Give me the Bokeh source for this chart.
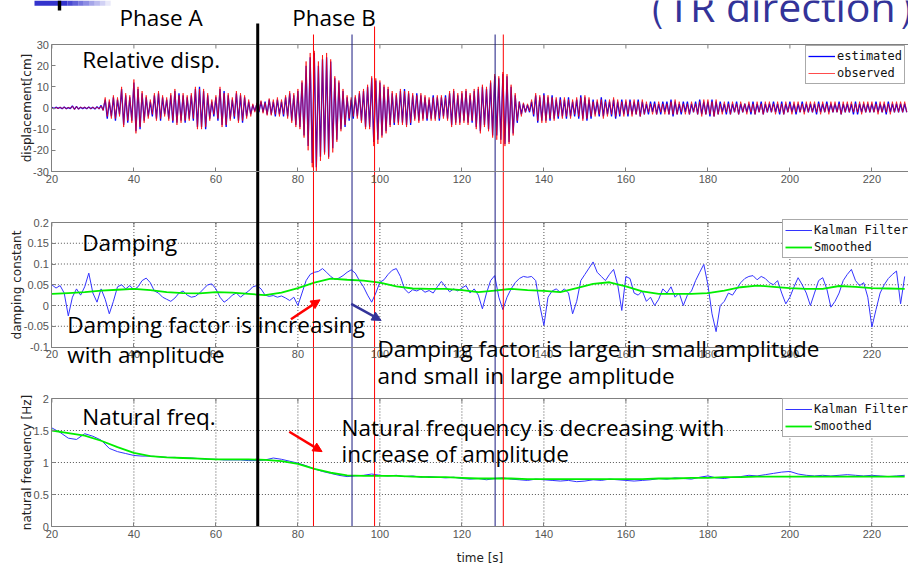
import numpy as np
from bokeh.plotting import figure
from bokeh.models import (Range1d, LinearAxis, FixedTicker, PrintfTickFormatter,
                          Legend, LegendItem, Label, Arrow, NormalHead, BoxAnnotation, Grid)
from bokeh.embed import file_html
from bokeh.resources import INLINE

# ------------------------------------------------------------------ data
T0 = 20.0
DISP_DT = 0.5          # half-cycle peaks
disp_estimated = [
    0.3,-0.3,0.4,-0.2,0.3,-0.4,0.5,-0.3,0.2,-0.3, 1.0,-0.6,0.8,-0.5,0.4,-0.3,0.3,-0.4,0.5,-0.3,
    0.4,-0.5,0.6,-0.4,1.2,-1.0,4,-5,3,-4, 5,-6,4,-3,9,-8,6,-7,5,-6,
    12,-11,9,-10,7,-6,5,-4,3,-4, 6,-5,7,-6,5,-3,4,-5,6,-7,
    8,-7,7,-6,6,-7,5,-5,6,-6, 9,-9,10,-9,8,-10,6,-5,3,-4,
    5,-6,9,-8,8,-9,6,-5,4,-5, 7,-6,6,-7,5,-4,3,-3,1.5,-1.5,
    2,-2,3,-2,3,-3,4,-3,3,-4, 4,-3,3,-4,5,-4,7,-6,6,-8,
    8,-9,12,-13,20,-18,24,-26,26,-28, 20,-23,23,-21,24,-23,22,-19,14,-15,
    12,-10,8,-9,5,-6,4,-5,5,-4, 7,-6,8,-9,10,-9,14,-16,13,-15,
    12,-13,10,-11,9,-8,7,-8,6,-7, 8,-7,9,-8,7,-8,6,-5,7,-6,
    6,-5,5,-6,4,-5,6,-5,5,-6, 5,-4,6,-5,7,-8,8,-7,6,-7,
    7,-6,8,-7,6,-7,8,-9,9,-11, 10,-8,9,-10,12,-13,15,-13,14,-15,
    16,-17,15,-16,10,-12,6,-7,3,-3, 2,-2,1.5,-2,3,-4,6,-7,5,-6,
    7,-6,5,-6,6,-5,4,-5,5,-4, 4,-5,5,-4,3,-4,4,-5,6,-5,
    5,-6,4,-5,4,-3,3,-4,5,-4, 4,-3,3,-4,4,-5,3,-4,4,-3,
    3,-4,4,-3,3,-3,4,-4,3,-3, 2,-3,3,-2,3,-3,2,-3,3,-2,
    3,-3,4,-4,3,-3,2,-3,3,-2, 3,-3,2,-2,3,-3,4,-3,3,-3,
    3,-4,4,-4,3,-3,3,-2,2,-3, 3,-3,2,-2,3,-3,2,-2,2,-2,
    2,-3,3,-3,2,-2,3,-3,2,-2, 2,-2,3,-2,2,-3,3,-3,2,-2,
    3,-2,2,-3,2,-2,3,-2,2,-2, 2,-2,2,-3,3,-2,2,-2,3,-2,
    2,-2,2,-2,3,-3,2,-2,2,-2, 2,-3,3,-3,2,-2,2,-2,2,-2,
    2,-2,3,-2,2,-2,2,-3,3,-2, 2,-2,2,-2,2,-2,2,-2,
]
disp_observed = [
    0.2,-0.4,0.3,-0.3,0.4,-0.3,0.4,-0.4,0.3,-0.2, 0.9,-0.7,0.7,-0.6,0.5,-0.2,0.4,-0.3,0.4,-0.4,
    0.5,-0.4,0.5,-0.5,1.0,-1.2,5,-4,4,-5, 6,-5,5,-4,10,-9,7,-6,6,-7,
    13.5,-12,10,-9,8,-7,6,-5,4,-3, 7,-6,8,-5,6,-4,5,-6,7,-6,
    9,-8,6,-7,7,-6,6,-6,7,-5, 10,-10,9,-10,9,-9,7,-6,4,-3,
    6,-5,10,-9,7,-8,7,-6,5,-4, 8,-7,7,-6,6,-5,4,-4,2,-2,
    2.5,-1.5,3.5,-2.5,2.5,-3.5,4.5,-3.5,4,-3, 5,-4,4,-3,6,-5,8,-7,7,-9,
    9,-10,13,-14,22,-20,26,-28,27,-30, 22,-25,25,-22,26,-24,23,-21,15,-16,
    13,-11,9,-8,6,-5,5,-4,6,-5, 8,-7,9,-10,11,-10,15,-18,14,-17,
    13,-14,11,-12,10,-9,8,-7,7,-8, 9,-8,8,-9,8,-7,7,-6,6,-7,
    7,-6,6,-5,5,-6,5,-6,6,-5, 6,-5,5,-6,8,-9,9,-8,7,-8,
    8,-7,9,-8,7,-6,9,-10,10,-12, 11,-9,10,-11,13,-14,16,-15,15,-17,
    17,-18,16,-17,11,-13,7,-6,3,-4, 2.5,-2,2,-1.5,4,-3,7,-6,6,-7,
    6,-7,6,-5,5,-6,5,-4,4,-5, 5,-4,4,-5,4,-3,5,-4,5,-6,
    6,-5,5,-4,3,-4,4,-3,4,-5, 3,-4,4,-3,5,-4,4,-3,3,-4,
    4,-3,3,-4,4,-3,3,-4,4,-3, 3,-2,2,-3,2,-3,3,-2,2,-3,
    2,-3,3,-3,4,-3,3,-2,2,-3, 2,-3,3,-2,2,-3,3,-4,4,-3,
    4,-3,3,-4,4,-3,2,-3,3,-2, 2,-3,3,-2,2,-3,3,-2,2,-3,
    3,-2,2,-3,3,-2,2,-3,3,-2, 3,-2,2,-3,3,-2,2,-3,3,-2,
    2,-3,3,-2,3,-2,2,-3,3,-2, 3,-2,3,-2,2,-3,3,-2,2,-3,
    3,-2,3,-2,2,-3,3,-2,3,-2, 3,-2,2,-2,3,-3,3,-2,3,-2,
    3,-2,2,-3,3,-2,3,-2,2,-3, 3,-2,3,-2,3,-2,3,-2,
]

DAMP_KF_DT = 1.0
damp_kalman = [
    0.05,0.042,0.048,0.03,-0.025,0.02,0.04,0.025,0.045,0.078,
    0.03,0.008,0.04,0.015,-0.02,0.01,0.045,0.05,0.04,0.048,
    0.038,0.045,0.06,0.066,0.055,0.035,0.03,0.02,0.015,0.01,
    0.018,0.03,0.035,0.025,0.02,0.022,0.03,0.04,0.05,0.052,
    0.04,0.02,0.008,0.015,0.025,0.03,0.02,0.028,0.035,0.045,
    0.048,0.04,0.025,0.022,0.024,0.02,0.023,0.018,0.012,0.02,
    0.0,0.03,0.06,0.075,0.08,0.082,0.089,0.08,0.07,0.063,
    0.066,0.072,0.08,0.086,0.078,0.06,0.045,0.025,0.008,0.03,
    0.056,0.062,0.075,0.085,0.089,0.07,0.04,0.03,0.038,0.035,
    0.04,0.032,0.036,0.03,0.045,0.058,0.045,0.033,0.04,0.035,
    0.042,0.048,0.03,0.04,0.025,-0.008,0.03,0.06,0.072,0.02,
    -0.01,0.02,0.04,0.055,0.065,0.07,0.068,0.07,0.06,0.0,
    -0.048,0.02,0.035,0.04,0.032,0.04,0.03,-0.02,0.01,0.06,
    0.075,0.09,0.105,0.08,0.07,0.06,0.075,0.087,0.05,-0.012,
    0.07,0.065,0.03,0.025,0.035,0.01,0.02,0.0,0.015,0.04,
    0.03,0.045,0.02,0.03,0.0,0.025,0.035,0.06,0.08,0.099,
    0.05,-0.02,-0.063,0.0,0.01,0.03,0.025,0.04,0.055,0.065,
    0.07,0.072,0.062,0.07,0.065,0.055,0.05,0.06,0.03,0.004,
    0.02,0.045,0.067,0.05,0.03,0.0,0.03,0.06,0.067,0.04,
    -0.004,0.01,0.03,0.06,0.075,0.087,0.06,0.048,0.055,0.02,
    -0.052,-0.01,0.03,0.05,0.065,0.075,0.083,0.004,0.07,
]
DAMP_SM_DT = 4.0
damp_smoothed = [
    0.028,0.03,0.032,0.036,0.038,0.04,0.037,0.032,0.03,0.029,
    0.032,0.031,0.028,0.025,0.031,0.042,0.055,0.065,0.062,0.06,
    0.055,0.046,0.041,0.04,0.04,0.037,0.032,0.036,0.04,0.037,
    0.035,0.032,0.042,0.052,0.056,0.046,0.034,0.028,0.028,0.028,
    0.03,0.036,0.044,0.048,0.045,0.042,0.04,0.04,0.047,0.045,
    0.042,0.041,0.04,
]
FREQ_KF_DT = 2.0
freq_kalman = [
    1.54,1.47,1.38,1.36,1.45,1.41,1.35,1.22,1.17,1.14,
    1.11,1.1,1.1,1.09,1.08,1.08,1.07,1.07,1.06,1.05,
    1.05,1.04,1.04,1.04,1.03,1.03,1.04,1.07,1.05,1.02,
    0.99,0.95,0.9,0.86,0.83,0.8,0.78,0.79,0.8,0.82,
    0.8,0.79,0.8,0.78,0.79,0.77,0.78,0.77,0.76,0.77,
    0.75,0.74,0.75,0.73,0.75,0.76,0.74,0.73,0.72,0.74,
    0.73,0.72,0.71,0.72,0.7,0.71,0.73,0.72,0.74,0.73,
    0.72,0.71,0.72,0.73,0.75,0.74,0.76,0.75,0.74,0.77,
    0.79,0.76,0.75,0.77,0.78,0.8,0.79,0.81,0.83,0.85,
    0.86,0.82,0.8,0.79,0.8,0.79,0.8,0.81,0.8,0.79,
    0.8,0.79,0.78,0.79,0.8,
]
FREQ_SM_DT = 4.0
freq_smoothed = [
    1.5,1.46,1.42,1.34,1.24,1.15,1.1,1.08,1.07,1.06,
    1.05,1.05,1.05,1.04,1.02,0.98,0.9,0.84,0.8,0.79,
    0.79,0.79,0.78,0.77,0.77,0.76,0.75,0.75,0.75,0.74,
    0.74,0.74,0.74,0.74,0.74,0.74,0.74,0.75,0.75,0.76,
    0.76,0.77,0.77,0.78,0.78,0.78,0.78,0.78,0.78,0.78,
    0.78,0.78,0.78,
]

x_ticks = [20, 40, 60, 80, 100, 120, 140, 160, 180, 200, 220]
disp_ticks = [-30, -20, -10, 0, 10, 20, 30]
damp_ticks = [-0.1, -0.05, 0, 0.05, 0.1, 0.15, 0.2]
freq_ticks = [0, 0.5, 1, 1.5, 2]

event_times = [83.8, 93.2, 98.7, 128.1, 130.1]
event_colors = ["#FF0000", "#1A1A80", "#FF0000", "#1A1A80", "#FF0000"]
phase_boundary_time = 70.2

# ------------------------------------------------------------------ layout
W, H = 908, 566
PX_T20, PX_PER_S = 51.4, 4.1
x_lo = 20 - PX_T20 / PX_PER_S
x_hi = 20 + (W - PX_T20) / PX_PER_S


def band_range(lo, hi, px_lo, px_hi):
    k = (px_lo - px_hi) / (hi - lo)
    return Range1d(start=lo - (H - px_lo) / k, end=hi + px_hi / k)


DISP = (-30, 30, 171, 44)
DAMP = (-0.1, 0.2, 346.5, 222)
FREQ = (0, 2, 526, 398)


def freq_at_px(px):
    lo, hi, plo, phi = FREQ
    return lo + (plo - px) * (hi - lo) / (plo - phi)


p = figure(width=W, height=H, x_range=Range1d(x_lo, x_hi), y_range=band_range(*FREQ),
           output_backend="svg", toolbar_location=None,
           x_axis_location=None, y_axis_location=None, min_border=0,
           outline_line_color=None, background_fill_color="white", border_fill_color="white")
p.extra_y_ranges = {"disp": band_range(*DISP), "damp": band_range(*DAMP)}
p.center = [c for c in p.center if not isinstance(c, Grid)]

AX = "#808080"
TICK_PX = 4


def style(ax):
    ax.axis_line_color = AX
    ax.major_tick_line_color = AX
    ax.major_tick_in = TICK_PX
    ax.major_tick_out = 0
    ax.minor_tick_in = 0
    ax.minor_tick_out = 0
    ax.major_label_text_font = "Liberation Sans"
    ax.major_label_text_font_size = "11px"
    ax.major_label_text_color = "#555555"
    ax.major_label_standoff = 3
    ax.axis_label_text_font = "DejaVu Sans"
    ax.axis_label_text_font_size = "12px"
    ax.axis_label_text_font_style = "normal"
    ax.axis_label_text_color = "#222222"
    ax.axis_label_standoff = -4


def panel(rn, spec, yticks, ylabel, grid, xlabel=None):
    lo, hi, plo, phi = spec
    yax = LinearAxis(y_range_name=rn, fixed_location=20, bounds=(lo, hi),
                     ticker=FixedTicker(ticks=yticks), formatter=PrintfTickFormatter(format="%g"),
                     axis_label=ylabel)
    style(yax)
    p.add_layout(yax, "left")
    xb = LinearAxis(y_range_name=rn, fixed_location=lo, bounds=(20, x_hi + 10),
                    ticker=FixedTicker(ticks=x_ticks), formatter=PrintfTickFormatter(format="%g"))
    style(xb)
    if xlabel:
        xb.axis_label = xlabel
        xb.axis_label_standoff = 10
    p.add_layout(xb, "below")
    # top border of the box with inward ticks
    tick_len = TICK_PX * (hi - lo) / (plo - phi)
    p.segment(x0=[20], y0=[hi], x1=[x_hi + 5], y1=[hi], y_range_name=rn, line_color=AX, line_width=1)
    p.segment(x0=x_ticks, y0=[hi] * len(x_ticks), x1=x_ticks, y1=[hi - tick_len] * len(x_ticks),
              y_range_name=rn, line_color=AX, line_width=1)
    if grid:
        gx = [t for t in x_ticks if t > 20]
        p.segment(x0=gx, y0=[lo] * len(gx), x1=gx, y1=[hi] * len(gx), y_range_name=rn,
                  line_color="#555555", line_dash="1 2", line_width=1)
        gy = [v for v in yticks if lo < v < hi]
        p.segment(x0=[20] * len(gy), y0=gy, x1=[x_hi + 5] * len(gy), y1=gy, y_range_name=rn,
                  line_color="#555555", line_dash="1 2", line_width=1)


panel("disp", DISP, disp_ticks, "displacement[cm]", False)
panel("damp", DAMP, damp_ticks, "damping constant", True)
panel("default", FREQ, freq_ticks, "natural frequency [Hz]", True, xlabel="time [s]")

# data
t_est = T0 + DISP_DT * np.arange(len(disp_estimated))
t_obs = T0 + DISP_DT * np.arange(len(disp_observed))
r_est = p.line(t_est, disp_estimated, y_range_name="disp", line_color="#0000FF", line_width=1.3)
r_obs = p.line(t_obs, disp_observed, y_range_name="disp", line_color="#FF0000", line_width=1,
               line_alpha=0.7)

r_dkf = p.line(T0 + DAMP_KF_DT * np.arange(len(damp_kalman)), damp_kalman, y_range_name="damp",
               line_color="#3333FF", line_width=1)
r_dsm = p.line(T0 + DAMP_SM_DT * np.arange(len(damp_smoothed)), damp_smoothed, y_range_name="damp",
               line_color="#00EE00", line_width=1.8)
r_fkf = p.line(T0 + FREQ_KF_DT * np.arange(len(freq_kalman)), freq_kalman,
               line_color="#3333FF", line_width=1)
r_fsm = p.line(T0 + FREQ_SM_DT * np.arange(len(freq_smoothed)), freq_smoothed,
               line_color="#00EE00", line_width=1.8)

# event markers spanning all panels
EVENT_TOP_PX = [34, 34, 26, 34, 34]
p.segment(x0=event_times, y0=[0] * len(event_times), x1=event_times,
          y1=[freq_at_px(v) for v in EVENT_TOP_PX], line_color=event_colors, line_width=1)
p.segment(x0=[phase_boundary_time], y0=[0], x1=[phase_boundary_time], y1=[freq_at_px(23)],
          line_color="black", line_width=3)


# legends
def mk_legend(items, left_px, bottom_px):
    lg = Legend(items=items, location=(left_px, H - bottom_px), orientation="vertical",
                border_line_color="#555555", border_line_width=1,
                background_fill_color="white", background_fill_alpha=1,
                label_text_font="DejaVu Sans Mono", label_text_font_size="12px",
                label_text_color="#111111", glyph_width=27, glyph_height=16, label_height=16,
                spacing=1, padding=2, margin=0, label_standoff=2)
    p.add_layout(lg, "center")


mk_legend([LegendItem(label="estimated", renderers=[r_est]),
           LegendItem(label="observed", renderers=[r_obs])], 805, 84)
mk_legend([LegendItem(label="Kalman Filter", renderers=[r_dkf]),
           LegendItem(label="Smoothed", renderers=[r_dsm])], 782, 258)
mk_legend([LegendItem(label="Kalman Filter", renderers=[r_fkf]),
           LegendItem(label="Smoothed", renderers=[r_fsm])], 782, 437)

# annotation texts (left x, baseline y, from top-left in px)
NOTE_SIZE = 22.5
BASE_SHIFT = 0.45   # Bokeh places the "alphabetic" anchor this many em below the baseline
notes = [
    ("Phase A", 119, 27),
    ("Phase B", 291.7, 27),
    ("Relative disp.", 81.7, 69),
    ("Damping", 81.7, 251.7),
    ("Damping factor is increasing", 66.7, 334),
    ("with amplitude", 66.7, 364),
    ("Damping factor is large in small amplitude", 377, 358),
    ("and small in large amplitude", 377, 385),
    ("Natural freq.", 81.7, 426),
    ("Natural frequency is decreasing with", 341, 437),
    ("increase of amplitude", 341, 463),
]
for txt, x, y in notes:
    p.add_layout(Label(x=x, y=H - (y - BASE_SHIFT * NOTE_SIZE), x_units="screen", y_units="screen",
                       text=txt, text_font="Open Sans", text_font_size=f"{NOTE_SIZE}px",
                       text_color="black", text_baseline="alphabetic", text_align="left"))

TITLE_SIZE = 41
p.add_layout(Label(x=626, y=H - (24 - BASE_SHIFT * TITLE_SIZE), x_units="screen", y_units="screen",
                   text="（TR direction）", text_font="Open Sans", text_font_size=f"{TITLE_SIZE}px",
                   text_color="#333399", text_baseline="alphabetic", text_align="left"))

# arrows
p.add_layout(Arrow(end=NormalHead(size=9, fill_color="red", line_color="red"),
                   x_start=78.3, y_start=-0.033, x_end=85.4, y_end=0.0136, y_range_name="damp",
                   line_color="red", line_width=2.5))
p.add_layout(Arrow(end=NormalHead(size=9, fill_color="#333399", line_color="#333399"),
                   x_start=93.0, y_start=0.004, x_end=100.3, y_end=-0.036, y_range_name="damp",
                   line_color="#333399", line_width=2.5))
p.add_layout(Arrow(end=NormalHead(size=9, fill_color="red", line_color="red"),
                   x_start=77.9, y_start=1.48, x_end=85.9, y_end=1.17,
                   line_color="red", line_width=2.5))


# slide decoration (top-left)
def sbox(l, r, t, b, color, alpha):
    p.add_layout(BoxAnnotation(left=l, right=r, top=H - t, bottom=H - b,
                               left_units="screen", right_units="screen",
                               top_units="screen", bottom_units="screen",
                               fill_color=color, fill_alpha=alpha, line_alpha=0))


sbox(34, 67, 0, 5.3, "#3333CC", 1)
for i in range(8):
    sbox(67 + i * 5.4, 67 + (i + 1) * 5.4, 0, 5.3, "#3333CC", 1 - (i + 1) / 9)
sbox(57.3, 60.7, 0, 10, "black", 1)

open("out.html", "w").write(file_html(p, INLINE))
